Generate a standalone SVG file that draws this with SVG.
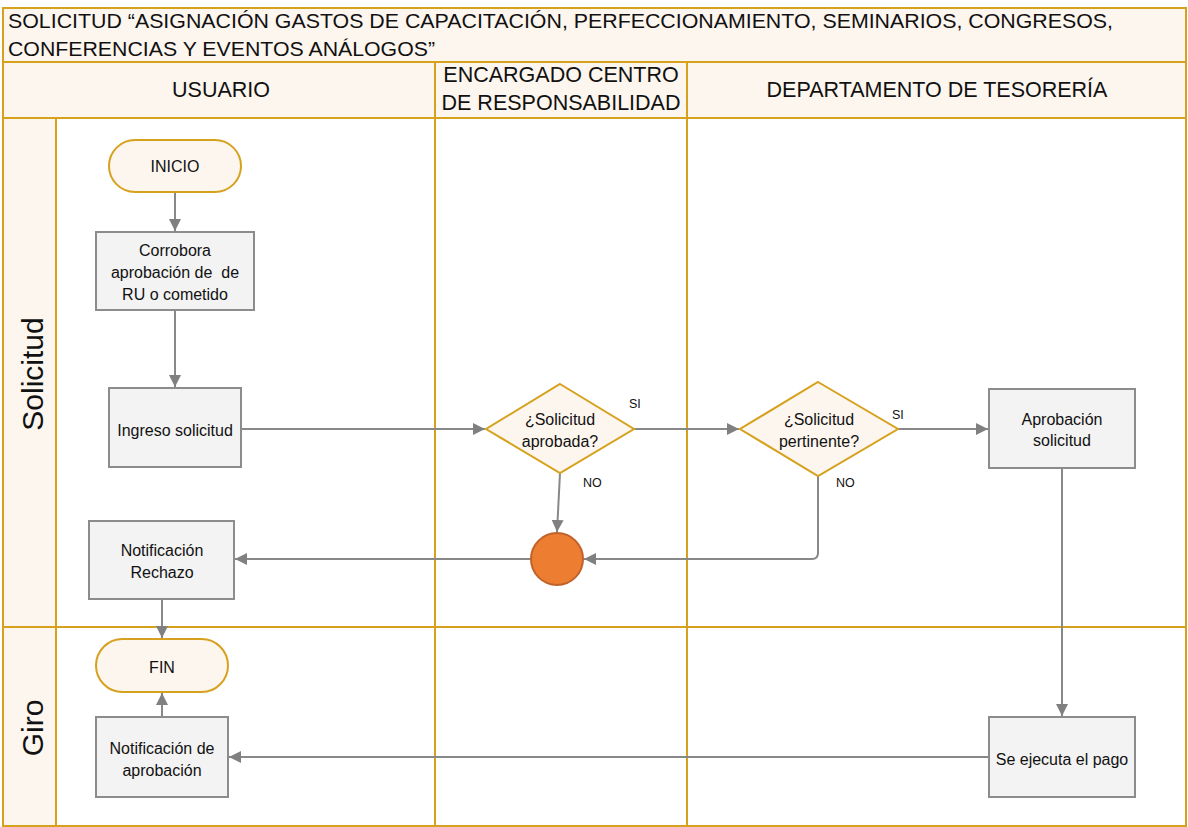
<svg xmlns="http://www.w3.org/2000/svg" width="1188" height="827" viewBox="0 0 1188 827">
  <defs>
    <marker id="arr" viewBox="0 0 12 12" refX="12" refY="6" markerWidth="12" markerHeight="12" markerUnits="userSpaceOnUse" orient="auto">
      <path d="M0,0 L12,6 L0,12 z" fill="#808080"/>
    </marker>
  </defs>
  <style>
    .frame { fill: none; stroke: #D6A11C; stroke-width: 2; }
    .band { fill: #FDF6EF; stroke: #D6A11C; stroke-width: 2; }
    .title { font-family: "Liberation Sans", Arial, sans-serif; font-size: 21px; fill: #111; }
    .head { font-family: "Liberation Sans", Arial, sans-serif; font-size: 21.5px; fill: #111; text-anchor: middle; }
    .lane { font-family: "Liberation Sans", Arial, sans-serif; font-size: 30px; fill: #111; text-anchor: middle; }
    .proc { fill: #F3F3F3; stroke: #8C8C8C; stroke-width: 2; }
    .term { fill: #FDF6EF; stroke: #D6A11C; stroke-width: 2; }
    .dec { fill: #FDF6EF; stroke: #D6A11C; stroke-width: 2; }
    .lbl { font-family: "Liberation Sans", Arial, sans-serif; font-size: 16px; fill: #111; text-anchor: middle; }
    .small { font-family: "Liberation Sans", Arial, sans-serif; font-size: 12.5px; fill: #111; }
    .conn { fill: none; stroke: #888888; stroke-width: 2; marker-end: url(#arr); }
  </style>

  <!-- background -->
  <rect x="0" y="0" width="1188" height="827" fill="#FFFFFF"/>

  <!-- title band -->
  <g id="title">
    <rect class="band" x="3" y="8" width="1183" height="54"/>
    <text class="title" x="8" y="28" textLength="1105" lengthAdjust="spacingAndGlyphs">SOLICITUD “ASIGNACIÓN GASTOS DE CAPACITACIÓN, PERFECCIONAMIENTO, SEMINARIOS, CONGRESOS,</text>
    <text class="title" x="8" y="56" textLength="427" lengthAdjust="spacingAndGlyphs">CONFERENCIAS Y EVENTOS ANÁLOGOS”</text>
  </g>

  <!-- column headers -->
  <g id="headers">
    <rect class="band" x="3" y="62" width="432" height="56"/>
    <rect class="band" x="435" y="62" width="252" height="56"/>
    <rect class="band" x="687" y="62" width="499" height="56"/>
    <text class="head" x="221" y="97">USUARIO</text>
    <text class="head" x="561" y="82">ENCARGADO CENTRO</text>
    <text class="head" x="561" y="110">DE RESPONSABILIDAD</text>
    <text class="head" x="937" y="97">DEPARTAMENTO DE TESORERÍA</text>
  </g>

  <!-- swimlanes -->
  <g id="lanes">
    <rect class="band" x="3" y="118" width="53" height="509"/>
    <rect class="band" x="3" y="627" width="53" height="199"/>
    <rect class="frame" x="56" y="118" width="1130" height="509"/>
    <rect class="frame" x="56" y="627" width="1130" height="199"/>
    <line class="frame" x1="435" y1="118" x2="435" y2="826"/>
    <line class="frame" x1="687" y1="118" x2="687" y2="826"/>
    <text class="lane" transform="translate(43,374) rotate(-90)">Solicitud</text>
    <text class="lane" transform="translate(43,728) rotate(-90)">Giro</text>
  </g>

  <!-- connectors -->
  <g id="connectors">
    <line class="conn" x1="175" y1="192" x2="175" y2="231"/>
    <line class="conn" x1="175" y1="310" x2="175" y2="387"/>
    <line class="conn" x1="241" y1="429" x2="485" y2="429"/>
    <line class="conn" x1="634" y1="429" x2="739" y2="429"/>
    <line class="conn" x1="898" y1="429" x2="988" y2="429"/>
    <line class="conn" x1="560" y1="473" x2="557" y2="532"/>
    <path class="conn" d="M818,476 L818,553 Q818,559 812,559 L584,559"/>
    <line class="conn" x1="531" y1="559" x2="235" y2="559"/>
    <line class="conn" x1="162" y1="599" x2="162" y2="638"/>
    <line class="conn" x1="1062" y1="468" x2="1062" y2="716"/>
    <line class="conn" x1="989" y1="757" x2="229" y2="757"/>
    <line class="conn" x1="162" y1="717" x2="162" y2="693"/>
    <text class="small" x="629" y="408">SI</text>
    <text class="small" x="583" y="487">NO</text>
    <text class="small" x="892" y="419">SI</text>
    <text class="small" x="836" y="487">NO</text>
  </g>

  <!-- nodes -->
  <g id="inicio">
    <rect class="term" x="109" y="140" width="132" height="52" rx="26" ry="26"/>
    <text class="lbl" x="175" y="172">INICIO</text>
  </g>
  <g id="corrobora">
    <rect class="proc" x="96" y="232" width="158" height="78"/>
    <text class="lbl" x="175" y="256">Corrobora</text>
    <text class="lbl" x="175" y="278" xml:space="preserve">aprobación de  de</text>
    <text class="lbl" x="175" y="300">RU o cometido</text>
  </g>
  <g id="ingreso">
    <rect class="proc" x="109" y="388" width="132" height="79"/>
    <text class="lbl" x="175" y="436">Ingreso solicitud</text>
  </g>
  <g id="decision-aprobada">
    <polygon class="dec" points="560,384 634,429 560,473 486,429"/>
    <text class="lbl" x="560" y="425">¿Solicitud</text>
    <text class="lbl" x="560" y="447">aprobada?</text>
  </g>
  <g id="decision-pertinente">
    <polygon class="dec" points="818,382 898,429 818,476 740,429"/>
    <text class="lbl" x="819" y="425">¿Solicitud</text>
    <text class="lbl" x="819" y="447">pertinente?</text>
  </g>
  <g id="rechazo-merge">
    <circle cx="557" cy="559" r="26" fill="#ED7D31" stroke="#C0622A" stroke-width="2"/>
  </g>
  <g id="aprobacion">
    <rect class="proc" x="989" y="389" width="146" height="79"/>
    <text class="lbl" x="1062" y="425">Aprobación</text>
    <text class="lbl" x="1062" y="446">solicitud</text>
  </g>
  <g id="notif-rechazo">
    <rect class="proc" x="89" y="521" width="145" height="78"/>
    <text class="lbl" x="162" y="556">Notificación</text>
    <text class="lbl" x="162" y="578">Rechazo</text>
  </g>
  <g id="fin">
    <rect class="term" x="96" y="639" width="132" height="53" rx="26.5" ry="26.5"/>
    <text class="lbl" x="162" y="673">FIN</text>
  </g>
  <g id="notif-aprobacion">
    <rect class="proc" x="96" y="717" width="132" height="80"/>
    <text class="lbl" x="162" y="754">Notificación de</text>
    <text class="lbl" x="162" y="776">aprobación</text>
  </g>
  <g id="pago">
    <rect class="proc" x="989" y="717" width="146" height="80"/>
    <text class="lbl" x="1062" y="765">Se ejecuta el pago</text>
  </g>
</svg>
